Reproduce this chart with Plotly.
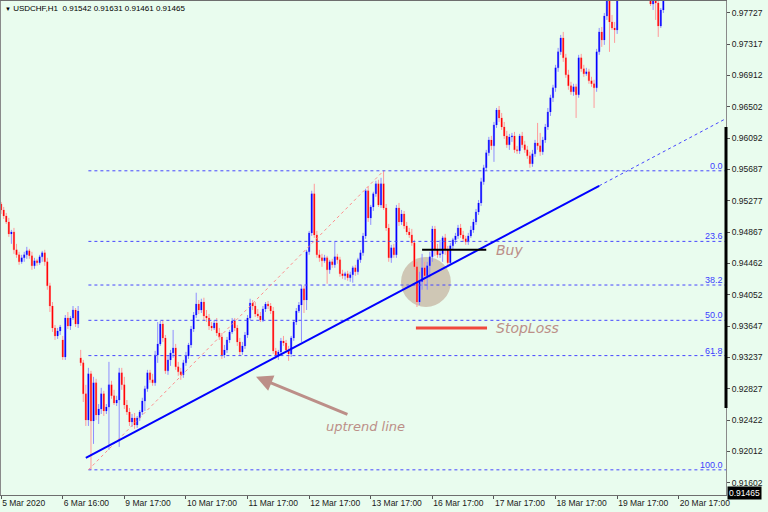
import plotly.graph_objects as go

# ---------------- data (prices in points, 1 point = 0.00001) ----------------
open_pts = [
    95238, 95160, 95082, 95004, 94848, 94874, 94640, 94575, 94484, 94536,
    94575, 94627, 94562, 94432, 94497, 94471, 94549, 94601, 94484, 94172,
    93908, 93622, 93518, 93583, 93466, 93245, 93752, 93648, 93752, 93856,
    93674, 93232, 93167, 92764, 92423, 93024, 92410, 92907, 92488, 92566,
    92764, 92540, 92592, 92881, 92738, 92644, 92683, 93037, 92881, 92618,
    92527, 92397, 92449, 92358, 92449, 92527, 92670, 92829, 93037, 92946,
    92907, 93271, 93414, 93674, 93492, 93063, 93206, 93297, 93362, 93115,
    93050, 93011, 93167, 93258, 93401, 93609, 93791, 93934, 93856, 93960,
    93778, 93752, 93648, 93622, 93687, 93557, 93505, 93271, 93336, 93466,
    93570, 93713, 93622, 93440, 93310, 93388, 93531, 93752, 93947, 93908,
    93804, 93778, 93726, 93869, 93934, 93908, 93843, 93323, 93258, 93310,
    93453, 93427, 93336, 93284, 93492, 93700, 93843, 93921, 94133, 93986,
    94614, 94861, 95371, 94835, 94575, 94536, 94497, 94536, 94380, 94484,
    94445, 94549, 94510, 94328, 94302, 94328, 94276, 94315, 94406, 94354,
    94510, 94601, 94822, 95410, 95056, 95199, 95371, 95501, 95225, 95501,
    95186, 94926, 94536, 94666, 94575, 95186, 95004, 95108, 94952, 94874,
    94835, 94731, 94419, 93960, 94224, 94406, 94302, 94432, 94549, 94913,
    94640, 94575, 94588, 94796, 94640, 94471, 94692, 94770, 94822, 94926,
    94835, 94783, 94744, 94822, 94900, 95004, 95134, 95251, 95527, 95709,
    95904, 96073, 95995, 96268, 96463, 96359, 96242, 96125, 96008, 96112,
    96125, 95943, 95930, 96125, 96008, 95943, 95865, 95761, 95891, 96034,
    95995, 95917, 96073, 96242, 96437, 96622, 96752, 97012, 97220, 97402,
    97142, 96921, 96778, 96700, 96765, 96661, 97142, 96999, 96934, 96960,
    96843, 96804, 96752, 97220, 97480, 97376, 97688, 97961, 97610, 97532,
    97506, 98026, 98130, 98234, 98182, 98351, 98286, 98390, 98468, 98416,
    98338, 98221, 98091, 97974, 97844, 97922, 97857, 97558, 97766, 97948,
]
high_pts = [
    95264, 95199, 95121, 95056, 94900, 94926, 94718, 94614, 94575, 94614,
    94679, 94653, 94614, 94536, 94523, 94575, 94627, 94640, 94536, 94211,
    93960, 93661, 93622, 93661, 93518, 93791, 93830, 93778, 93908, 93882,
    93908, 93336, 93206, 92881, 93102, 93063, 92985, 92959, 92631, 92842,
    92803, 92631, 93180, 92933, 92816, 92738, 93102, 93102, 92985, 92683,
    92579, 92501, 92514, 92475, 92553, 92712, 92868, 93076, 93076, 93024,
    93323, 93700, 93713, 93726, 93531, 93258, 93336, 93596, 93414, 93180,
    93102, 93206, 93310, 93427, 93648, 93830, 94081, 93986, 94003, 94016,
    93856, 93804, 93700, 93726, 93752, 93622, 93557, 93401, 93505, 93596,
    93752, 93752, 93661, 93492, 93440, 93570, 93791, 94003, 93986, 93960,
    93869, 93830, 93908, 93960, 93973, 93947, 93895, 93362, 93336, 93492,
    93518, 93466, 93388, 93518, 93726, 93882, 93960, 94185, 94172, 94640,
    94887, 95410, 95501, 94887, 94640, 94588, 94575, 94562, 94510, 94523,
    94744, 94588, 94549, 94380, 94354, 94367, 94354, 94432, 94445, 94536,
    94640, 94861, 95436, 95462, 95225, 95397, 95540, 95553, 95579, 95670,
    95238, 94978, 94705, 94718, 95225, 95251, 95160, 95147, 95004, 94926,
    94913, 94770, 94484, 94354, 94588, 94484, 94484, 94614, 94952, 94952,
    94718, 94770, 94822, 94848, 94692, 94731, 94796, 94861, 94965, 94978,
    94887, 94822, 94861, 94952, 95043, 95173, 95290, 95579, 95748, 95943,
    96112, 96125, 96307, 96489, 96515, 96424, 96307, 96190, 96151, 96164,
    96177, 95995, 96151, 96177, 96060, 95995, 95917, 95943, 96073, 96294,
    96164, 96112, 96281, 96489, 96661, 96791, 97051, 97272, 97441, 97480,
    97194, 96986, 96830, 96804, 96804, 97181, 97194, 97051, 97012, 96999,
    96895, 96856, 97259, 97532, 97545, 97727, 98052, 98026, 97701, 97610,
    98091, 98182, 98286, 98351, 98416, 98481, 98442, 98546, 98572, 98494,
    98390, 98286, 98156, 98052, 98000, 98000, 97922, 97792, 98000, 98156,
]
low_pts = [
    95108, 95043, 94978, 94809, 94718, 94588, 94536, 94445, 94458, 94484,
    94523, 94523, 94380, 94393, 94432, 94445, 94484, 94432, 94120, 93830,
    93570, 93466, 93479, 93531, 93206, 93206, 93609, 93596, 93726, 93635,
    93622, 93128, 92657, 92345, 92345, 91773, 92111, 92423, 92371, 92501,
    92475, 92501, 92033, 92699, 92618, 92605, 92072, 92816, 92566, 92488,
    92345, 92332, 92306, 92319, 92410, 92488, 92540, 92790, 92907, 92868,
    92868, 93167, 93388, 93440, 93024, 93011, 93128, 93232, 93076, 92998,
    92946, 92972, 93128, 93219, 93362, 93570, 93752, 93804, 93817, 93726,
    93700, 93596, 93583, 93596, 93518, 93466, 93219, 93232, 93297, 93427,
    93544, 93583, 93388, 93258, 93271, 93349, 93492, 93726, 93856, 93765,
    93752, 93700, 93700, 93830, 93869, 93804, 93284, 93219, 93206, 93271,
    93388, 93297, 93193, 93245, 93453, 93661, 93817, 93440, 93817, 93856,
    94575, 94822, 94796, 94536, 94484, 94419, 94471, 94198, 94328, 94406,
    94406, 94458, 94289, 94263, 94250, 94237, 94224, 94211, 94302, 94315,
    94471, 94562, 94783, 95004, 94965, 95147, 95332, 95199, 95186, 95160,
    94887, 94484, 94471, 94536, 94536, 94952, 94965, 94913, 94835, 94796,
    94692, 94380, 93895, 93921, 94120, 94185, 94120, 94276, 94484, 94562,
    94536, 94536, 94484, 94575, 94445, 94445, 94640, 94718, 94783, 94796,
    94744, 94705, 94705, 94796, 94861, 94965, 95095, 95212, 95488, 95670,
    95865, 95943, 95787, 96229, 96307, 96203, 96086, 95969, 95943, 96047,
    95904, 95891, 95891, 95969, 95904, 95826, 95709, 95722, 95852, 95943,
    95865, 95878, 96034, 96203, 96385, 96567, 96700, 96960, 97181, 97090,
    96882, 96726, 96661, 96648, 96359, 96622, 96960, 96895, 96908, 96804,
    96765, 96489, 96700, 97181, 97285, 97311, 97636, 97220, 97506, 97337,
    97454, 97974, 98052, 98156, 98130, 98260, 98208, 98312, 98364, 98286,
    98156, 98026, 97935, 97818, 97766, 97636, 97415, 97532, 97727, 97896,
]
close_pts = [
    95160, 95082, 95004, 94848, 94874, 94640, 94575, 94484, 94536, 94575,
    94627, 94562, 94432, 94497, 94471, 94549, 94601, 94484, 94172, 93908,
    93622, 93518, 93583, 93635, 93245, 93752, 93648, 93752, 93856, 93674,
    93843, 93167, 92764, 92423, 93024, 92410, 92907, 92488, 92566, 92764,
    92540, 92592, 92881, 92738, 92644, 92683, 93037, 92881, 92618, 92527,
    92397, 92449, 92358, 92449, 92527, 92670, 92829, 93037, 92946, 92907,
    93271, 93414, 93674, 93492, 93063, 93206, 93297, 93362, 93115, 93050,
    93011, 93167, 93258, 93401, 93609, 93791, 93934, 93856, 93960, 93778,
    93752, 93648, 93622, 93687, 93557, 93505, 93271, 93336, 93466, 93570,
    93713, 93622, 93440, 93310, 93388, 93531, 93752, 93947, 93908, 93804,
    93778, 93726, 93869, 93934, 93908, 93843, 93323, 93258, 93310, 93453,
    93427, 93336, 93284, 93492, 93700, 93843, 93921, 94133, 93986, 94614,
    94861, 95371, 94835, 94575, 94536, 94497, 94536, 94380, 94484, 94445,
    94549, 94510, 94328, 94302, 94328, 94276, 94315, 94406, 94354, 94510,
    94601, 94822, 95410, 95056, 95199, 95371, 95501, 95225, 95501, 95186,
    94926, 94536, 94666, 94575, 95186, 95004, 95108, 94952, 94874, 94835,
    94731, 94419, 93960, 94224, 94406, 94302, 94432, 94549, 94913, 94640,
    94575, 94588, 94796, 94640, 94471, 94692, 94770, 94822, 94926, 94835,
    94783, 94744, 94822, 94900, 95004, 95134, 95251, 95527, 95709, 95904,
    96073, 95995, 96268, 96463, 96359, 96242, 96125, 96008, 96112, 96125,
    95943, 95930, 96125, 96008, 95943, 95865, 95761, 95891, 96034, 95995,
    95917, 96073, 96242, 96437, 96622, 96752, 97012, 97220, 97402, 97142,
    96921, 96778, 96700, 96765, 96661, 97142, 96999, 96934, 96960, 96843,
    96804, 96752, 97220, 97480, 97376, 97688, 97961, 97610, 97532, 97506,
    98026, 98130, 98234, 98182, 98351, 98286, 98390, 98468, 98416, 98338,
    98221, 98091, 97948, 97844, 97922, 97857, 97558, 97766, 97948, 98091,
]

tick_bars = [0, 24, 48, 72, 96, 120, 144, 168, 192, 216, 240, 264]
tick_labels = ["5 Mar 2020", "6 Mar 16:00", "9 Mar 17:00", "10 Mar 17:00",
               "11 Mar 17:00", "12 Mar 17:00", "13 Mar 17:00", "16 Mar 17:00",
               "17 Mar 17:00", "18 Mar 17:00", "19 Mar 17:00", "20 Mar 17:00"]
price_ticks = [0.97727, 0.97317, 0.96912, 0.96502, 0.96092, 0.95687, 0.95277,
               0.94867, 0.94462, 0.94052, 0.93647, 0.93237, 0.92827, 0.92422,
               0.92012, 0.91602]

title_text = "USDCHF,H1"
title_ohlc = ["0.91542", "0.91631", "0.91461", "0.91465"]
last_price = 0.91465

fib_levels = [0.0, 23.6, 38.2, 50.0, 61.8, 100.0]
fib_high, fib_high_bar = 0.95670, 149
fib_low, fib_low_bar = 0.91773, 34

trend_bars = [33, 233]
trend_prices = [0.91929, 0.95475]

buy_price, buy_bars = 0.94640, [164, 189]
stop_price, stop_bars = 0.93622, [161.6, 189.3]
label_bar = 192
zone_center = (165.5, 0.94222)
zone_radius = (9.7, 0.00326)
arrow_head = (99.3, 0.92985)
arrow_tail = (135.5, 0.92488)
uptrend_label = (125.8, 0.92332)

x_range = [-0.05, 282.4]
y_range = [0.91445, 0.97883]

# ---------------- figure ----------------
BG = "#E9FCEE"
o = [v / 1e5 for v in open_pts]
h = [v / 1e5 for v in high_pts]
l = [v / 1e5 for v in low_pts]
c = [v / 1e5 for v in close_pts]
bars = list(range(len(c)))
body_hi = [max(a, b) for a, b in zip(o, c)]
body_lo = [min(a, b) for a, b in zip(o, c)]

fig = go.Figure()
fig.add_trace(go.Candlestick(
    x=bars, open=o, high=h, low=l, close=c, whiskerwidth=0,
    increasing=dict(line=dict(color="#8E8EFF", width=1), fillcolor="#8E8EFF"),
    decreasing=dict(line=dict(color="#FF9A9A", width=1), fillcolor="#FF9A9A"),
    hoverinfo="skip", showlegend=False))
fig.add_trace(go.Candlestick(
    x=bars, open=o, high=body_hi, low=body_lo, close=c, whiskerwidth=0,
    increasing=dict(line=dict(color="#0000FF", width=0), fillcolor="#0000FF"),
    decreasing=dict(line=dict(color="#FF0000", width=0), fillcolor="#FF0000"),
    hoverinfo="skip", showlegend=False))

shapes = []
annotations = []

# Fibonacci retracement
rng = fib_high - fib_low
for lv in fib_levels:
    p = fib_high - lv / 100.0 * rng
    shapes.append(dict(type="line", xref="x", yref="y", x0=fib_low_bar, x1=x_range[1],
                       y0=p, y1=p, line=dict(color="#4646FF", width=1, dash="dot")))
    annotations.append(dict(x=x_range[1], y=p, xref="x", yref="y", text=f"{lv:.1f}",
                            xanchor="right", yanchor="bottom", showarrow=False, xshift=-1,
                            yshift=-2, font=dict(family="Liberation Sans", size=9, color="#3C3CFF")))
shapes.append(dict(type="line", xref="x", yref="y", x0=fib_low_bar, y0=fib_low,
                   x1=fib_high_bar, y1=fib_high, line=dict(color="#FF8C8C", width=1, dash="dot")))

# uptrend line + dotted extension
slope = (trend_prices[1] - trend_prices[0]) / (trend_bars[1] - trend_bars[0])
ext_end = trend_prices[1] + slope * (x_range[1] + 1 - trend_bars[1])
shapes.append(dict(type="line", xref="x", yref="y", x0=trend_bars[0], y0=trend_prices[0],
                   x1=trend_bars[1], y1=trend_prices[1], line=dict(color="#0000FF", width=2)))
shapes.append(dict(type="line", xref="x", yref="y", x0=trend_bars[1], y0=trend_prices[1],
                   x1=x_range[1] + 1, y1=ext_end, line=dict(color="#4646FF", width=1, dash="dot")))

# zone circle
shapes.append(dict(type="circle", xref="x", yref="y", layer="below",
                   x0=zone_center[0] - zone_radius[0], x1=zone_center[0] + zone_radius[0],
                   y0=zone_center[1] - zone_radius[1], y1=zone_center[1] + zone_radius[1],
                   fillcolor="rgba(185,155,135,0.55)", line=dict(width=0)))

# buy / stop loss
shapes.append(dict(type="line", xref="x", yref="y", x0=buy_bars[0], x1=buy_bars[1],
                   y0=buy_price, y1=buy_price, line=dict(color="#000000", width=2)))
shapes.append(dict(type="line", xref="x", yref="y", x0=stop_bars[0], x1=stop_bars[1],
                   y0=stop_price, y1=stop_price, line=dict(color="#F0483C", width=3)))

# right scale marker
shapes.append(dict(type="line", xref="paper", yref="paper", x0=1, x1=1, y0=0.176, y1=0.745,
                   line=dict(color="#000000", width=3)))

hand = dict(family="DejaVu Sans", size=14, color="#BC8F88", style="italic")
annotations.append(dict(x=label_bar, y=buy_price, xref="x", yref="y", text="Buy",
                        xanchor="left", yanchor="middle", showarrow=False, font=hand))
annotations.append(dict(x=label_bar, y=stop_price, xref="x", yref="y", text="StopLoss",
                        xanchor="left", yanchor="middle", showarrow=False, font=hand))
annotations.append(dict(x=uptrend_label[0], y=uptrend_label[1], xref="x", yref="y",
                        text="uptrend line", xanchor="left", yanchor="middle", showarrow=False,
                        font=dict(family="DejaVu Sans", size=13, color="#BC8F88", style="italic")))
annotations.append(dict(x=arrow_head[0], y=arrow_head[1], xref="x", yref="y",
                        ax=arrow_tail[0], ay=arrow_tail[1], axref="x", ayref="y", text="",
                        showarrow=True, arrowhead=2, arrowsize=1.1, arrowwidth=3,
                        arrowcolor="#BC8F88", standoff=0))

# title and last price
annotations.append(dict(x=0, y=1, xref="paper", yref="paper", xanchor="left", yanchor="top",
                        xshift=2, yshift=-1, showarrow=False,
                        text="<span style='font-size:6px'>▼</span> " + title_text + "\u00a0\u00a0"
                             + " ".join(title_ohlc),
                        font=dict(family="Liberation Sans", size=8, color="#000000")))
annotations.append(dict(x=1, y=last_price, xref="paper", yref="y", xanchor="left",
                        yanchor="middle", xshift=1, showarrow=False, text=f"{last_price:.5f}",
                        bgcolor="#000000", borderpad=1,
                        font=dict(family="Liberation Sans", size=8.5, color="#FFFFFF")))

fig.update_layout(
    width=768, height=512,
    margin=dict(l=1, r=42, t=1, b=17),
    paper_bgcolor=BG, plot_bgcolor=BG,
    showlegend=False,
    shapes=shapes, annotations=annotations,
    xaxis=dict(range=x_range, rangeslider=dict(visible=False), tickmode="array",
               tickvals=tick_bars, ticktext=tick_labels, ticks="outside", ticklen=3,
               tickcolor="#555555", ticklabelposition="outside right",
               showgrid=False, zeroline=False, showline=True, mirror=True,
               linecolor="#6E6E6E", linewidth=1,
               tickfont=dict(family="Liberation Sans", size=8.5, color="#1A1A1A")),
    yaxis=dict(range=y_range, side="right", tickmode="array", tickvals=price_ticks,
               ticktext=[f"{p:.5f}" for p in price_ticks], ticks="outside", ticklen=3,
               tickcolor="#555555", showgrid=False, zeroline=False, showline=True,
               mirror=True, linecolor="#8A8A8A", linewidth=1,
               tickfont=dict(family="Liberation Sans", size=8.5, color="#1A1A1A")),
)

fig.write_html("out.html", config={"displayModeBar": False},
               post_script="document.body.style.margin='0';document.body.style.background='" + BG + "';")
